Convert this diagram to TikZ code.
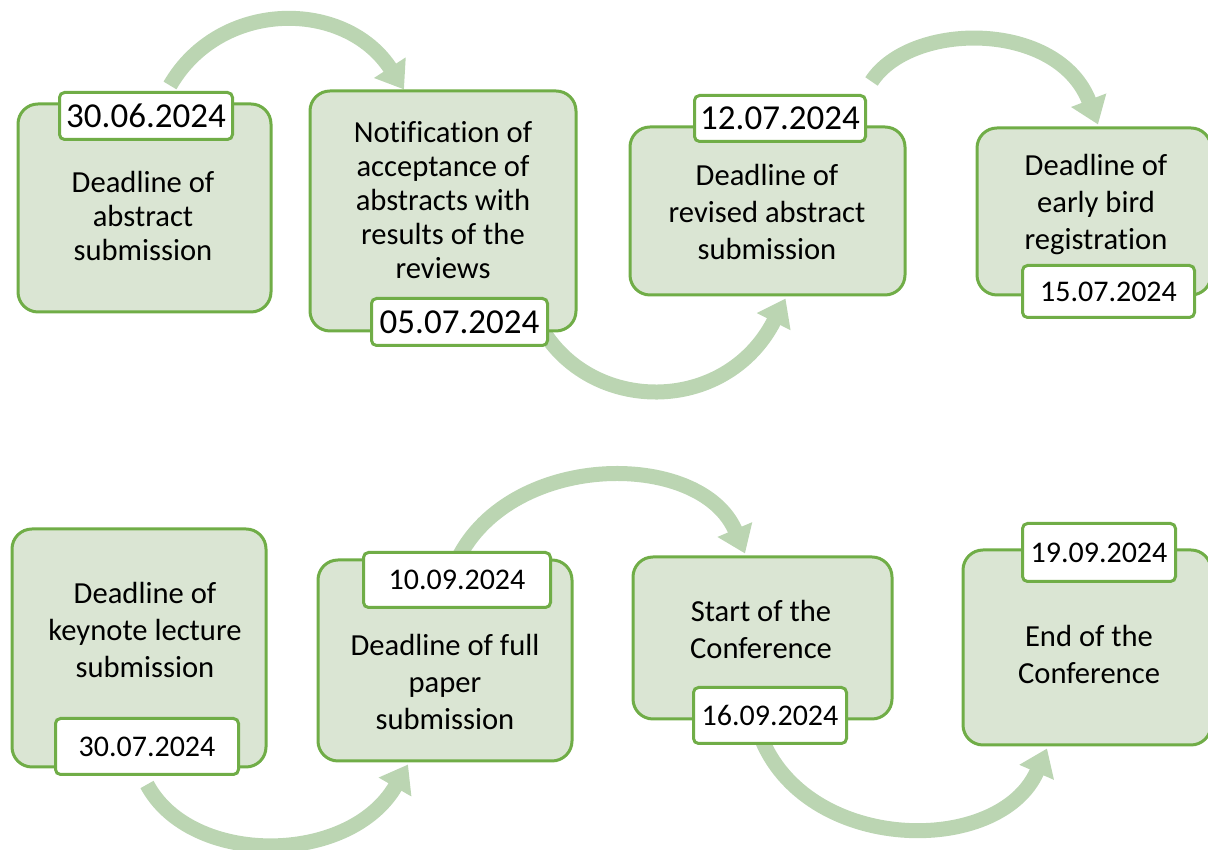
\documentclass[tikz,border=0pt]{standalone}
\usepackage{fontspec}
\setmainfont{Carlito}[Ligatures=NoCommon]
\usetikzlibrary{arrows.meta}
\pgfdeclarelayer{background}
\pgfsetlayers{background,main}
\definecolor{bordergreen}{HTML}{70AD47}
\definecolor{boxgreen}{HTML}{DAE5D3}
\definecolor{arrowgreen}{HTML}{BBD5B2}
\tikzset{
  stagebox/.style={draw=bordergreen, fill=boxgreen, line width=3pt, rounded corners=20pt, inner sep=0pt},
  datebox/.style={draw=bordergreen, fill=white, line width=3pt, rounded corners=5pt, inner sep=0pt, font=\fontsize{30}{36}\selectfont},
  bigdate/.style={font=\fontsize{35}{42}\selectfont},
  stagetext/.style={align=center, inner sep=0pt, font=\fontsize{30.6}{37}\selectfont},
  tightlines/.style={font=\fontsize{30.6}{34}\selectfont},
  flow/.style={draw=arrowgreen, line width=15pt, -{Triangle[width=36pt,length=26pt]}},
}
\begin{document}
\begin{tikzpicture}[x=1pt,y=1pt]
\useasboundingbox (0,0) rectangle (1208,850);
\clip (0,0) rectangle (1208,850);
% stage boxes
\node[stagebox, minimum width=253pt, minimum height=208pt] (boxA) at (144.5,642) {};
\node[stagebox, minimum width=266pt, minimum height=240pt] (boxB) at (443,639) {};
\node[stagebox, minimum width=275pt, minimum height=168pt] (boxC) at (767.5,639) {};
\node[stagebox, minimum width=234pt, minimum height=167pt] (boxD) at (1094,638.5) {};
\node[stagebox, minimum width=254pt, minimum height=238pt] (boxE) at (139,202) {};
\node[stagebox, minimum width=254pt, minimum height=201pt] (boxF) at (445,189.5) {};
\node[stagebox, minimum width=259pt, minimum height=162pt] (boxG) at (762.5,212) {};
\node[stagebox, minimum width=248pt, minimum height=195pt] (boxH) at (1087,202.5) {};
% texts
\node[stagetext, tightlines] (tA) at (143,634) {Deadline of\\abstract\\submission};
\node[stagetext, tightlines] (tB) at (443,650) {Notification of\\acceptance of\\abstracts with\\results of the\\reviews};
\node[stagetext] (tC) at (767,638) {Deadline of\\revised abstract\\submission};
\node[stagetext] (tD) at (1096,645) {Deadline of\\early bird\\registration};
\node[stagetext] (tE) at (145,220) {Deadline of\\keynote lecture\\submission};
\node[stagetext] (tF) at (445,168) {Deadline of full\\paper\\submission};
\node[stagetext] (tG) at (761,220.5) {Start of the\\Conference};
\node[stagetext] (tH) at (1089,195.5) {End of the\\Conference};
% dates
\node[datebox, bigdate, minimum width=173pt, minimum height=47pt] (dA) at (146,734) {30.06.2024};
\node[datebox, bigdate, minimum width=176pt, minimum height=47pt] (dB) at (459.5,528) {05.07.2024};
\node[datebox, bigdate, minimum width=171pt, minimum height=46pt] (dC) at (780,731.5) {12.07.2024};
\node[datebox, minimum width=172pt, minimum height=52pt] (dD) at (1108.5,558.5) {15.07.2024};
\node[datebox, minimum width=183pt, minimum height=56pt] (dE) at (147,103.5) {30.07.2024};
\node[datebox, minimum width=187pt, minimum height=55pt] (dF) at (457,270) {10.09.2024};
\node[datebox, minimum width=153pt, minimum height=56pt] (dG) at (770,134.5) {16.09.2024};
\node[datebox, minimum width=153pt, minimum height=58pt] (dH) at (1099,297.5) {19.09.2024};
% arrows
\begin{pgfonlayer}{background}
\draw[flow] ([shift={(24,5.5)}]dA.north) to[out=60, in=123, out distance=100pt, in distance=108pt] ([xshift=-39pt]boxB.north);
\draw[flow] ([shift={(80,-3)}]dB.center) to[out=-61, in=-117, out distance=103pt, in distance=131pt] ([shift={(18,-2)}]boxC.south);
\draw[flow] ([shift={(4.5,12.5)}]dC.north east) to[out=57, in=111, out distance=72pt, in distance=112pt] ([shift={(4,2)}]boxD.north);
\draw[flow] ([yshift=-8.5pt]dE.south) to[out=-62, in=-120, out distance=93pt, in distance=117pt] ([shift={(-37,-2)}]boxF.south);
\draw[flow] ([shift={(-2,15)}]dF.center) to[out=66.5, in=113, out distance=125pt, in distance=114pt] ([shift={(-17.5,2)}]boxG.north);
\draw[flow] ([shift={(-10,-19.5)}]dG.center) to[out=-69.4, in=-113.5, out distance=128pt, in distance=118pt] ([shift={(-40,-2)}]boxH.south);
\end{pgfonlayer}
\end{tikzpicture}
\end{document}
